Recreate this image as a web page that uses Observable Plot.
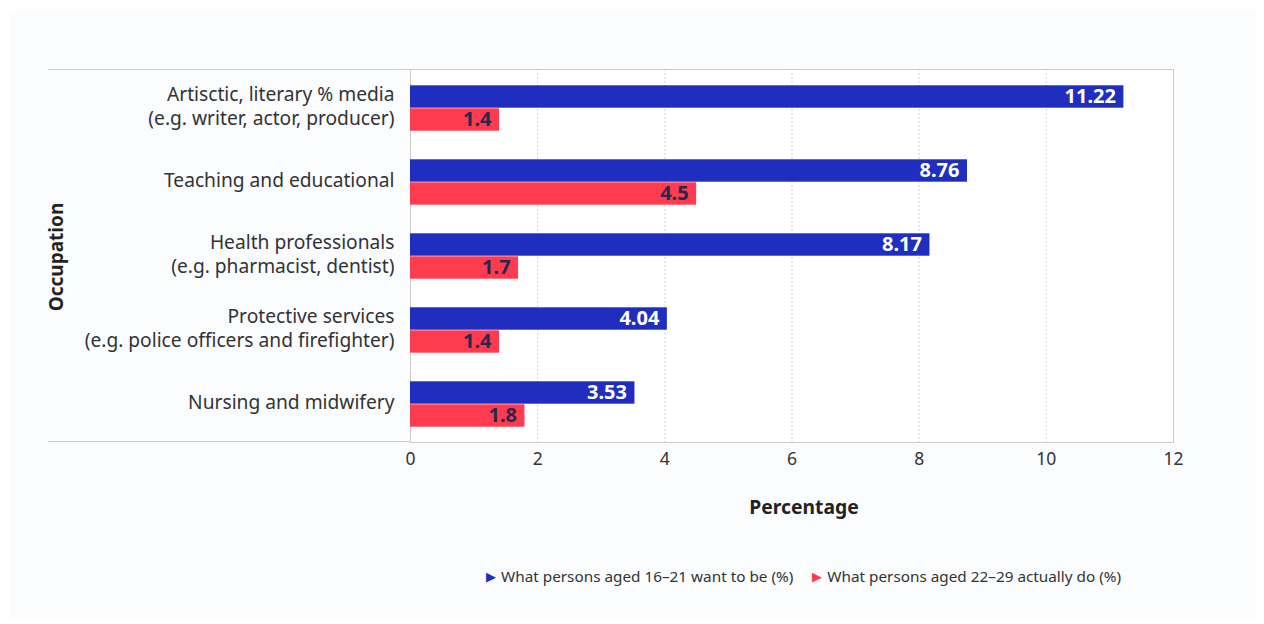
<!DOCTYPE html>
<html>
<head>
<meta charset="utf-8">
<script src="https://cdn.jsdelivr.net/npm/d3@7"></script>
<script src="https://cdn.jsdelivr.net/npm/@observablehq/plot@0.6"></script>
<style>
  html, body { margin: 0; padding: 0; background: #ffffff; font-family: "Noto Sans", sans-serif; }
  #card { position: absolute; left: 9px; top: 11px; width: 1247px; height: 609px; background: #fbfcfe; }
  #lines { position: absolute; left: 48px; top: 69px; width: 1125px; height: 373px; border-top: 1px solid #cccccc; border-bottom: 1px solid #cccccc; box-sizing: border-box; }
  #chart { position: absolute; left: 0; top: 0; }
  #legend { position: absolute; left: 486px; top: 566px; font-size: 15.3px; color: #333; display: flex; gap: 19px; white-space: nowrap; }
  #legend .item { display: flex; align-items: center; }
  #legend .mark { font-size: 13px; margin-right: 5px; }
</style>
</head>
<body>
<div id="card"></div>
<div id="lines"></div>
<div id="chart"></div>
<div id="legend"></div>
<script>
const categories = [
  "Artisctic, literary % media\n(e.g. writer, actor, producer)",
  "Teaching and educational",
  "Health professionals\n(e.g. pharmacist, dentist)",
  "Protective services\n(e.g. police officers and firefighter)",
  "Nursing and midwifery"
];
const wantValues = [11.22, 8.76, 8.17, 4.04, 3.53];
const actualValues = [1.4, 4.5, 1.7, 1.4, 1.8];
const seriesNames = ["What persons aged 16–21 want to be (%)", "What persons aged 22–29 actually do (%)"];
const seriesColors = ["#1f2ebe", "#ff3b4f"];
const xTicks = [0, 2, 4, 6, 8, 10, 12];
const xTitle = "Percentage";
const yTitle = "Occupation";

const rows = categories.map((c, i) => ({category: c, want: wantValues[i], actual: actualValues[i]}));

const barInset = 25.8;
const shift = 11.5;

const chart = Plot.plot({
  width: 1264,
  height: 530,
  marginLeft: 410,
  marginRight: 91,
  marginTop: 69,
  marginBottom: 88,
  style: { fontFamily: "Noto Sans, sans-serif", background: "transparent", color: "#333" },
  x: { domain: [0, 12] },
  y: { domain: categories, padding: 0 },
  marks: [
    Plot.frame({ fill: "white", stroke: "#cccccc" }),
    Plot.gridX(xTicks.filter(d => d > 0 && d < 12), { stroke: "#c4c4c4", strokeOpacity: 1, strokeDasharray: "1.5,2.5" }),
    Plot.barX(rows, { x: "want", y: "category", fill: seriesColors[0], insetTop: barInset, insetBottom: barInset, dy: -shift }),
    Plot.barX(rows, { x: "actual", y: "category", fill: seriesColors[1], insetTop: barInset, insetBottom: barInset, dy: shift }),
    Plot.text(rows, { x: "want", y: "category", text: d => String(d.want), textAnchor: "end", dx: -8, dy: -shift - 0.5, fill: "white", fontWeight: "bold", fontSize: 20 }),
    Plot.text(rows, { x: "actual", y: "category", text: d => String(d.actual), textAnchor: "end", dx: -8, dy: shift - 0.5, fill: "#27284f", fontWeight: "bold", fontSize: 20 }),
    Plot.axisY({ tickSize: 0, tickPadding: 16, fontSize: 19.2, label: null, lineHeight: 1.24, fill: "#333", dy: -3 }),
    Plot.axisX({ ticks: xTicks, tickSize: 0, tickPadding: 10, fontSize: 17.5, label: null, fill: "#333", tickFormat: d => String(d) }),
    Plot.text([xTitle], { frameAnchor: "bottom", dy: 71, dx: 12, fontWeight: "bold", fontSize: 19.3, fill: "#222" }),
    Plot.text([yTitle], { frameAnchor: "left", textAnchor: "middle", rotate: -90, dx: -354, dy: 1, fontWeight: "bold", fontSize: 19, fill: "#222" })
  ]
});
document.getElementById("chart").appendChild(chart);

const legend = document.getElementById("legend");
seriesNames.forEach((name, i) => {
  const item = document.createElement("div");
  item.className = "item";
  const m = document.createElement("span");
  m.className = "mark";
  m.style.color = seriesColors[i];
  m.textContent = "▶";
  const t = document.createElement("span");
  t.textContent = name;
  item.appendChild(m);
  item.appendChild(t);
  legend.appendChild(item);
});
</script>
</body>
</html>
